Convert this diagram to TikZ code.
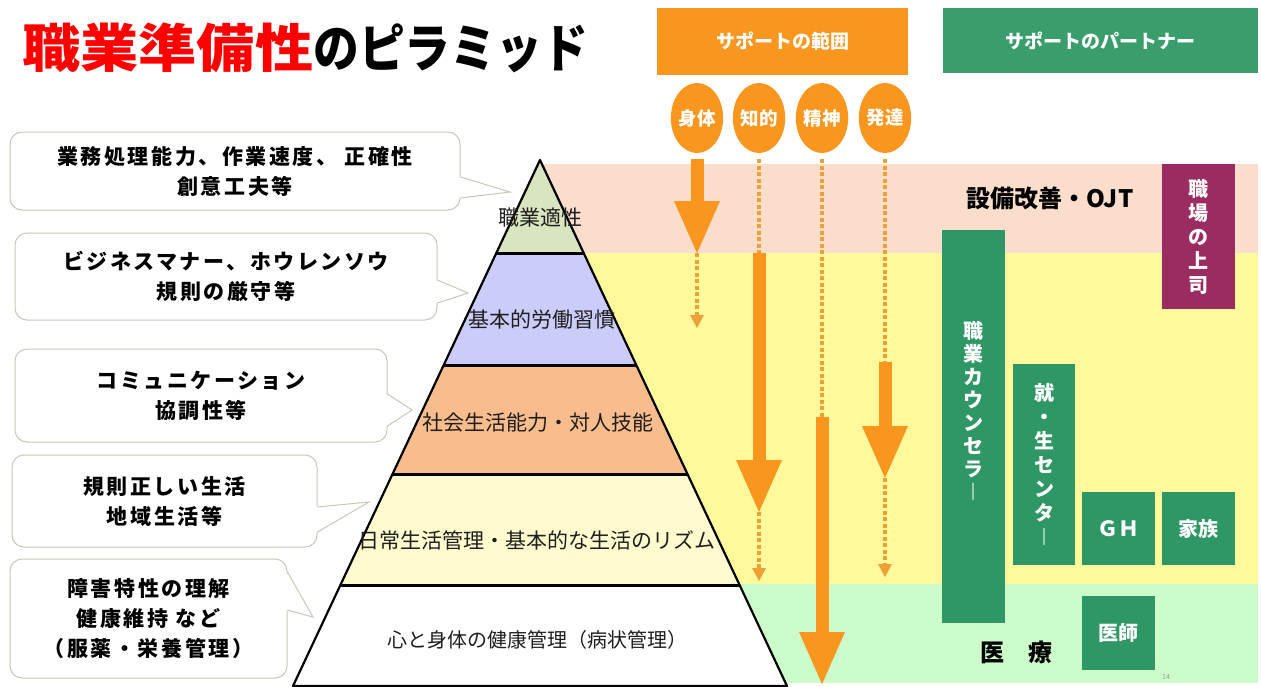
\documentclass[tikz,border=0pt]{standalone}
\usepackage{fontspec}
\usepackage{graphicx}
\setmainfont{Noto Sans CJK JP}
\newfontfamily\bubblefont[LetterSpace=12]{Noto Sans CJK JP}
\usetikzlibrary{arrows.meta,shapes.geometric,positioning}

\definecolor{sorange}{HTML}{F8961D}
\definecolor{dotorange}{HTML}{EDA035}
\definecolor{pgreen}{HTML}{2F9665}
\definecolor{hgreen}{HTML}{3A9D6C}
\definecolor{bosspurple}{HTML}{9B2C62}
\definecolor{bandpeach}{HTML}{FBDDCB}
\definecolor{bandyellow}{HTML}{FFF99C}
\definecolor{bandgreen}{HTML}{CDFCCB}
\definecolor{lvgreen}{HTML}{D8E5BE}
\definecolor{lvpurple}{HTML}{CCCCFA}
\definecolor{lvorange}{HTML}{F9BC8C}
\definecolor{lvcream}{HTML}{FFFBCE}
\definecolor{bubbleline}{HTML}{C3CBB8}

\tikzset{
  bubble/.style={draw=bubbleline, fill=white, line width=1pt, rounded corners=12pt,
    align=center, inner sep=0pt, font=\bubblefont\bfseries\fontsize{21}{30}\selectfont},
  pointer/.style={draw=bubbleline, line width=1pt},
  level/.style={inner sep=0pt, text=black!88, font=\fontsize{21}{24}\selectfont},
  circ/.style={ellipse, fill=sorange, minimum width=51pt, minimum height=70pt,
    inner sep=0pt, text=white, font=\bfseries\fontsize{18.5}{18.5}\selectfont},
  head/.style={inner sep=0pt, text=white, font=\bfseries\fontsize{19}{19}\selectfont},
  pbox/.style={fill=pgreen, text=white, inner sep=0pt, align=center,
    font=\bfseries\fontsize{20}{24}\selectfont},
  fat/.style={draw=sorange, line width=13pt, -{Triangle[width=46pt,length=52pt,line width=0pt]}},
  dotline/.style={draw=dotorange, line width=4pt, dash pattern=on 4pt off 2.5pt},
  dotarrow/.style={dotline, -{Triangle[width=14pt,length=13pt,line width=0pt]}},
}

\begin{document}
\begin{tikzpicture}[x=1pt, y=-1pt]
\useasboundingbox (0,0) rectangle (1261,686);
\fill[white] (0,0) rectangle (1261,686);

% bands behind the pyramid
\fill[bandpeach] (540,164) rectangle (1258,253);
\fill[bandyellow] (540,253) rectangle (1258,584);
\fill[bandgreen] (540,584) rectangle (1258,683);

\node[anchor=west, inner sep=0pt, font=\bfseries\fontsize{52}{52}\selectfont] (title) at (22,48)
  {\textcolor{red}{\scalebox{1.12}[1]{職業準備性}}\scalebox{0.88}[1]{のピラミッド}};

\node[head, fill=sorange, minimum width=251pt, minimum height=67pt] (range) at (782.5,41.5) {サポートの範囲};
\node[head, fill=hgreen, minimum width=315pt, minimum height=65pt] (partner) at (1100.5,40.5) {サポートのパートナー};

\foreach \n/\x/\t in {body/697/身体, intel/759/知的, mind/822/精神, dev/885/発達}
  \node[circ] (\n) at (\x,118) {\t};

% pyramid
\begin{scope}
  \clip (540,160) -- (787,686) -- (293,686) -- cycle;
  \foreach \ya/\yb/\c in {160/253/lvgreen, 253/365/lvpurple, 365/474/lvorange, 474/585/lvcream, 585/686/white}
    \fill[\c] (290,\ya) rectangle (790,\yb);
  \foreach \y in {253,365,474,585}
    \draw[line width=3pt] (290,\y) -- (790,\y);
\end{scope}
\draw[line width=2.2pt, line join=round] (540,160) -- (787,686) -- (293,686) -- cycle;

\node[level] (lv1) at (540,218) {職業適性};
\node[level] (lv2) at (542,320) {基本的労働習慣};
\node[level] (lv3) at (538,423) {社会生活能力・対人技能};
\node[level] (lv4) at (537,540) {日常生活管理・基本的な生活のリズム};
\node[level, font=\fontsize{20}{24}\selectfont] (lv5) at (537,640) {心と身体の健康管理（病状管理）};

% arrows
\coordinate (b1) at (697,253); \coordinate (b2) at (697,328);
\coordinate (i1) at (759,253); \coordinate (i2) at (759,512); \coordinate (i3) at (759,581);
\coordinate (m1) at (822,417); \coordinate (m2) at (822,684);
\coordinate (d1) at (885,362); \coordinate (d2) at (885,478); \coordinate (d3) at (885,577);
\draw[dotline] ([yshift=-6pt]intel.south) -- (i1);
\draw[dotline] ([yshift=-6pt]mind.south) -- (m1);
\draw[dotline] ([yshift=-6pt]dev.south) -- (d1);
\draw[dotarrow] (b1) -- (b2);
\draw[dotarrow] (i2) -- (i3);
\draw[dotarrow] (d2) -- (d3);
\draw[fat] ([yshift=-6pt]body.south) -- (b1);
\draw[fat] (i1) -- (i2);
\draw[fat] (m1) -- (m2);
\draw[fat] (d1) -- (d2);

% callouts
\node[bubble, minimum width=450pt, minimum height=78pt] (c1) at (235,171) {業務処理能力、作業速度、 正確性\\創意工夫等};
\node[bubble, minimum width=422pt, minimum height=87pt] (c2) at (226,276.5) {ビジネスマナー、ホウレンソウ\\規則の厳守等};
\node[bubble, minimum width=372pt, minimum height=93pt] (c3) at (201,395.5) {コミュニケーション\\協調性等};
\node[bubble, minimum width=305pt, minimum height=92pt] (c4) at (164.5,501) {規則正しい生活\\地域生活等};
\node[bubble, minimum width=277pt, minimum height=119pt] (c5) at (148.5,618.5) {障害特性の理解\\健康維持 など\\（服薬・栄養管理）};
\foreach \n/\ya/\yb/\tx/\ty in {c1/177/198/510/192, c2/280/303/468/293, c3/394/426/412/410,
                                c4/507/532/369/502, c5/572/610/313/617} {
  \fill[white] ([xshift=-1.5pt]\n.east |- 0,\ya) -- (\tx,\ty) -- ([xshift=-1.5pt]\n.east |- 0,\yb) -- cycle;
  \draw[pointer] (\n.east |- 0,\ya) -- (\tx,\ty) -- (\n.east |- 0,\yb);
}

% partners
\node[font=\bfseries\fontsize{24}{24}\selectfont, inner sep=0pt] (ojt) at (1050,198) {設備改善・OJT};
\node[pbox, fill=bosspurple, minimum width=73pt, minimum height=145pt] (boss) at (1198.5,236.5) {職\\場\\の\\上\\司};
\node[pbox, minimum width=63pt, minimum height=393pt] (counsel) at (973.5,426.5) {};
\node[pbox, fill=none, font=\bfseries\fontsize{20}{23}\selectfont] (counseltext) at ([yshift=16pt]counsel.center) {職\\業\\カ\\ウ\\ン\\セ\\ラ\\︱};
\node[pbox, minimum width=62pt, minimum height=201pt] (jsc) at (1044,464.5) {就\\・\\生\\セ\\ン\\タ\\︱};
\node[pbox, font=\bfseries\fontsize{21}{21}\selectfont, minimum width=73pt, minimum height=73pt] (gh) at (1118.5,528.5) {ＧＨ};
\node[pbox, minimum width=73pt, minimum height=73pt] (family) at (1198.5,528.5) {家族};
\node[pbox, minimum width=73pt, minimum height=74pt] (doctor) at (1118.5,633) {医師};
\node[font=\bfseries\fontsize{24}{24}\selectfont, inner sep=0pt] (medical) at (1016,652) {医　療};
\node[text=black!40, inner sep=0pt, font=\fontsize{7}{7}\selectfont] (page) at (1166,677) {14};
\end{tikzpicture}
\end{document}
